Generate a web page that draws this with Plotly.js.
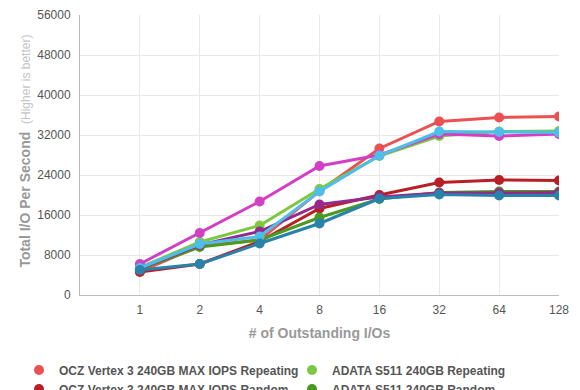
<!DOCTYPE html>
<html>
<head>
<meta charset="utf-8">
<script src="https://cdn.plot.ly/plotly-3.0.1.min.js"></script>
<style>html,body{margin:0;padding:0;background:#fff;}#chart{width:580px;height:390px;}</style>
</head>
<body>
<div id="chart"></div>
<script>
const categories = ["1", "2", "4", "8", "16", "32", "64", "128"];
const seriesNames = [
  "OCZ Vertex 3 240GB MAX IOPS Repeating",
  "ADATA S511 240GB Repeating",
  "OCZ Vertex 3 240GB MAX IOPS Random",
  "ADATA S511 240GB Random",
  "Corsair Force GT 240GB Repeating",
  "Intel SSD 510 250GB Repeating",
  "Corsair Force GT 240GB Random",
  "Intel SSD 510 250GB Random"
];
const oczRepeating   = [4700, 9800, 11000, 20800, 29300, 34700, 35500, 35700];
const adataRepeating = [5500, 10600, 13900, 21200, 27800, 31800, 32700, 32800];
const oczRandom      = [4600, 6200, 10700, 17300, 20000, 22500, 23000, 22900];
const adataRandom    = [5200, 9600, 11000, 15500, 19200, 20500, 20700, 20700];
const forceRepeating = [6200, 12400, 18700, 25800, 28000, 32200, 31800, 32200];
const intelRepeating = [5400, 10200, 11700, 20700, 27900, 32700, 32600, 32500];
const forceRandom    = [5300, 10000, 12700, 18100, 19600, 20400, 20400, 20500];
const intelRandom    = [5000, 6200, 10300, 14300, 19300, 20100, 19900, 19900];
const seriesValues = [oczRepeating, adataRepeating, oczRandom, adataRandom, forceRepeating, intelRepeating, forceRandom, intelRandom];
const colors = ["#ec5152", "#7cc843", "#b81f25", "#4a9a1d", "#d13fc4", "#4dbde9", "#952a8b", "#2882aa"];
const yTicks = [0, 8000, 16000, 24000, 32000, 40000, 48000, 56000];

const xPos = categories.map((c, i) => i + 1);
const drawOrder = [0, 2, 1, 3, 4, 6, 5, 7];
const traces = drawOrder.map(i => ({
  type: "scatter",
  mode: "lines+markers",
  name: seriesNames[i],
  x: xPos,
  y: seriesValues[i],
  line: {color: colors[i], width: 3},
  marker: {color: colors[i], size: 10},
  showlegend: false
}));
// legend-only entries (dot symbol), two columns filled row by row
seriesNames.forEach((name, i) => {
  traces.push({
    type: "scatter",
    mode: "markers",
    name: name,
    x: [null], y: [null],
    marker: {color: colors[i], size: 10},
    legend: (i % 2 === 0) ? "legend" : "legend2",
    legendrank: i + 1,
    hoverinfo: "skip"
  });
});

const legendFont = {size: 12, color: "#555", family: "Liberation Sans, Arial, sans-serif", weight: "bold"};
const layout = {
  width: 580, height: 390,
  margin: {l: 80, r: 21, t: 15, b: 95, autoexpand: false},
  paper_bgcolor: "#fff", plot_bgcolor: "#fff",
  font: {family: "Liberation Sans, Arial, sans-serif", color: "#555", size: 12},
  showlegend: true,
  xaxis: {
    range: [0, 8],
    tickmode: "array",
    tickvals: xPos,
    ticktext: categories,
    showgrid: true, gridcolor: "#e8e8e8", gridwidth: 1,
    showline: true, linecolor: "#bbb", linewidth: 1,
    zeroline: false,
    ticks: "",
    ticklabelstandoff: 4,
    tickfont: {size: 12, color: "#555"},
    title: {text: "<b># of Outstanding I/Os</b>", font: {size: 14, color: "#999"}, standoff: 11}
  },
  yaxis: {
    range: [0, 56000],
    tickmode: "array",
    tickvals: yTicks,
    ticktext: yTicks.map(String),
    showgrid: true, gridcolor: "#e8e8e8", gridwidth: 1,
    showline: true, linecolor: "#bbb", linewidth: 1,
    zeroline: false,
    ticks: "",
    ticklabelstandoff: 6,
    tickfont: {size: 12, color: "#555"},
    title: {text: "&nbsp;&nbsp;<b>Total I/O Per Second</b>  <span style='font-size:12px;color:#c4c4c4'>(Higher is better)</span>", font: {size: 14, color: "#999"}, standoff: 3}
  },
  legend: {
    orientation: "v", x: -0.1273, xanchor: "left", y: -0.216, yanchor: "top",
    traceorder: "normal", tracegroupgap: 0, font: legendFont, bgcolor: "rgba(0,0,0,0)"
  },
  legend2: {
    orientation: "v", x: 0.4426, xanchor: "left", y: -0.216, yanchor: "top",
    traceorder: "normal", tracegroupgap: 0, font: legendFont, bgcolor: "rgba(0,0,0,0)"
  }
};
Plotly.newPlot("chart", traces, layout, {displayModeBar: false, staticPlot: true});
</script>
</body>
</html>
